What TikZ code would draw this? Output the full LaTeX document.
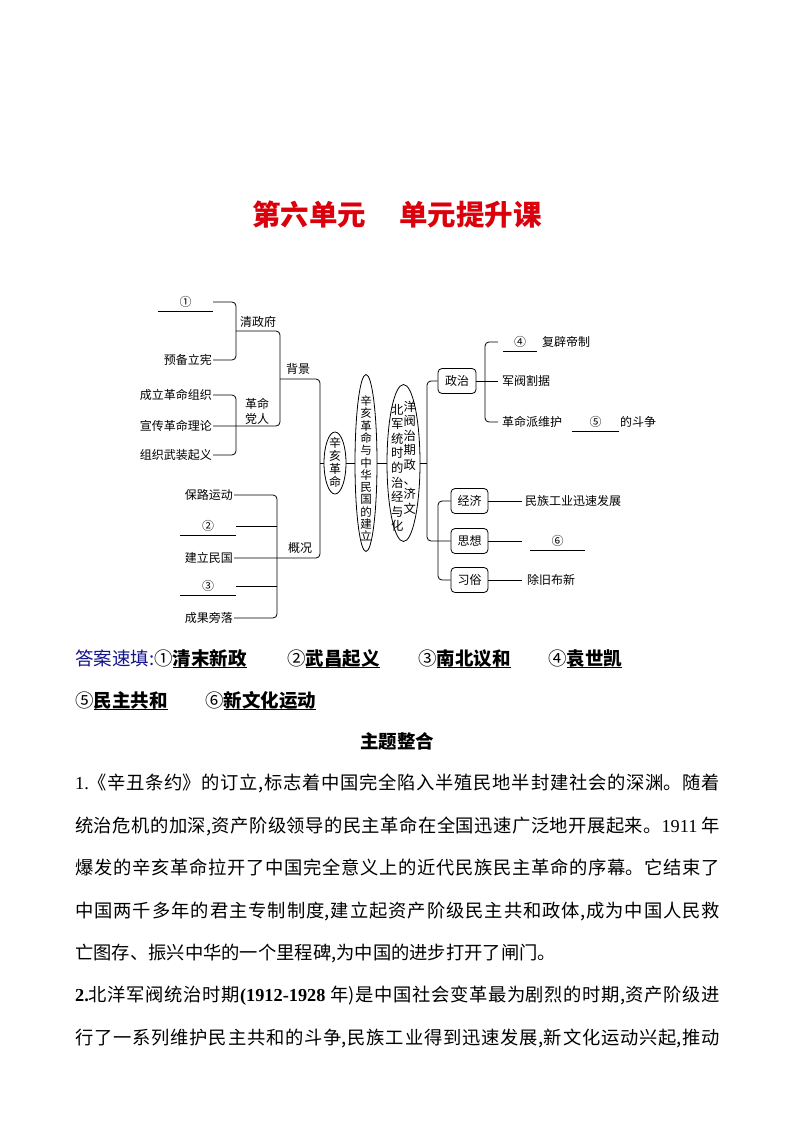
\documentclass[tikz,border=0pt]{standalone}
\usepackage{fontspec}
\setmainfont{Noto Sans CJK SC}
\newfontfamily\sr{Liberation Serif}
\usetikzlibrary{shapes.geometric}
\XeTeXlinebreaklocale "zh"
\XeTeXlinebreakskip=0pt plus 3pt
\definecolor{titlered}{RGB}{218,0,12}
\definecolor{ansblue}{RGB}{20,20,140}
\newsavebox\ulbox
\newcommand\ulb[1]{\sbox\ulbox{\bfseries #1}\rlap{\rule[-3.2pt]{\wd\ulbox}{1.3pt}}\usebox\ulbox}
\newcommand\rc[1]{\smash{\raisebox{3pt}{#1}}}
\tikzset{
  ln/.style={line width=0.8pt, draw=black},
  br/.style={ln, rounded corners=4pt},
  tx/.style={inner sep=1pt, font=\fontsize{12}{14}\selectfont},
  blankln/.style={inner sep=0pt, text height=13.8pt, text depth=5.2pt, minimum width=#1,
    font=\fontsize{12}{14}\selectfont,
    append after command={(\tikzlastnode.south west) edge[ln] (\tikzlastnode.south east)}},
  tagbox/.style={draw, line width=0.8pt, rounded corners=4pt, minimum width=37pt,
    minimum height=25pt, inner sep=0pt, font=\fontsize{12}{14}\selectfont},
  ell/.style={draw, line width=0.8pt, ellipse, inner sep=0pt},
  vt/.style={align=center, inner sep=0pt},
  para/.style={anchor=base west, inner sep=0pt, text width=645pt, align=justify,
    font=\fontsize{18.3}{22}\selectfont},
  plain/.style={anchor=base west, inner sep=0pt, font=\fontsize{18.3}{22}\selectfont},
  ans/.style={anchor=base west, inner sep=0pt, font=\fontsize{18.5}{22}\selectfont},
}
\begin{document}
\begin{tikzpicture}[x=1pt,y=-1pt]
\fill[white] (0,0) rectangle (794,1123);
\useasboundingbox (0,0) rectangle (794,1123);

% title
\node[font=\fontsize{28.5}{32}\selectfont\bfseries, text=titlered, inner sep=0pt] (title) at (397,215) {第六单元\hspace{1.15em}单元提升课};

% ---------- left part ----------
\node[blankln=55] (b1) at (185.5,302) {①};
\node[tx, anchor=east] (t2) at (213,360) {预备立宪};
\node[tx] (qzf) at (258,322) {清政府};
\node[tx] (bj) at (298,369) {背景};
\node[tx, align=center, font=\fontsize{12}{15}\selectfont] (gmdr) at (257,411) {革命\\党人};
\node[tx, anchor=east] (t3) at (213,395) {成立革命组织};
\node[tx, anchor=east] (t4) at (213,426) {宣传革命理论};
\node[tx, anchor=east] (t5) at (213,455) {组织武装起义};
\node[tx, anchor=east] (t6) at (234,495) {保路运动};
\node[blankln=56] (b2) at (208,526) {②};
\node[tx, anchor=east] (t8) at (234,558) {建立民国};
\node[blankln=56] (b3) at (208,586) {③};
\node[tx, anchor=east] (t10) at (234,618) {成果旁落};
\node[tx] (gk) at (300,548) {概况};

\coordinate (q) at (236,331);
\coordinate (k) at (280,379);
\coordinate (r) at (236,426);
\coordinate (m) at (320,463);
\coordinate (g) at (277,558);

\draw[br] (b1.east) -| (q) |- (t2.east);
\draw[br] (q) -| (k) |- (t4.east);
\draw[br] (t3.east) -| (r) |- (t5.east);
\draw[br] (k) -| (m) |- (t8.east);
\draw[br] (t6.east) -| (g) |- (t10.east);
\draw[ln] (b2.east) -- (b2.east -| g);
\draw[ln] (b3.east) -- (b3.east -| g);

% ---------- ellipses ----------
\node[ell, minimum width=22pt, minimum height=62pt] (e1) at (335,463) {};
\node[vt, font=\fontsize{12}{13}\selectfont] (e1t) at (335,462) {辛\\亥\\革\\命};
\node[ell, minimum width=22pt, minimum height=177pt] (e2) at (366,463) {};
\node[vt, font=\fontsize{11.5}{12.3}\selectfont] (e2t) at (366,468.5) {辛\\亥\\革\\命\\与\\中\\华\\民\\国\\的\\建\\立};
\node[ell, minimum width=33pt, minimum height=157pt] (e3) at (403.5,463) {};
\node[vt, font=\fontsize{12.3}{14.6}\selectfont] (e3t) at (403.5,468) {北\rc{洋}\\军\rc{阀}\\统\rc{治}\\时\rc{期}\\的\rc{政}\\治\rc{、}\\经\rc{济}\\与\rc{文}\\化\phantom{文}};

\draw[ln] (m) -- (e1.west);
\draw[ln] (e1.east) -- (e2.west);
\draw[ln] (e2.east) -- (e3.west);

% ---------- right part ----------
\coordinate (n) at (427,463);
\coordinate (p) at (438,541);
\coordinate (z) at (485,381);
\node[tagbox, minimum width=38pt] (zz) at (457,381) {政治};
\node[tagbox] (jj) at (469.5,501) {经济};
\node[tagbox] (sx) at (469.5,541) {思想};
\node[tagbox] (xs) at (469.5,580) {习俗};

\draw[ln] (e3.east) -- (n);
\draw[br] (zz.west) -| (n) |- (sx.west);
\draw[br] (jj.west) -| (p) |- (xs.west);

\node[blankln=34] (b4) at (520,342) {④};
\node[tx, anchor=west] (fb) at (541,342) {复辟帝制};
\node[tx, anchor=west] (jf) at (501,381) {军阀割据};
\node[tx, anchor=west] (gmp) at (501,422) {革命派维护};
\node[blankln=47] (b5) at (595.5,422) {⑤};
\node[tx, anchor=west] (dzz) at (619,422) {的斗争};

\draw[br] ([xshift=-5pt]b4.west) -| (z) |- ([xshift=-3pt]gmp.west);
\draw[ln] (zz.east) -- ([xshift=-3pt]jf.west);

\node[tx, anchor=west] (mz) at (524,501) {民族工业迅速发展};
\node[blankln=55] (b6) at (557.5,541) {⑥};
\node[tx, anchor=west] (cj) at (526,580) {除旧布新};
\draw[ln] (jj.east) -- ([xshift=-2pt]mz.west);
\draw[ln] (sx.east) -- ([xshift=-8pt]b6.west);
\draw[ln] (xs.east) -- ([xshift=-4pt]cj.west);

% ---------- answers ----------
\node[ans] (a1) at (75,665) {\textcolor{ansblue}{答案速填:}①\ulb{清末新政}};
\node[ans] (a2) at (287,665) {②\ulb{武昌起义}};
\node[ans] (a3) at (418,665) {③\ulb{南北议和}};
\node[ans] (a4) at (548,665) {④\ulb{袁世凯}};
\node[ans] (a5) at (75,707) {⑤\ulb{民主共和}};
\node[ans] (a6) at (205,707) {⑥\ulb{新文化运动}};

\node[font=\fontsize{18.5}{22}\selectfont\bfseries, anchor=base, inner sep=0pt] (zt) at (397,748) {主题整合};

% ---------- paragraphs ----------
\node[para] (l1) at (75,789) {\noindent{\parfillskip=0pt\relax {\sr 1.}《辛丑条约》的订立,标志着中国完全陷入半殖民地半封建社会的深渊。随着\par}};
\node[para] (l2) at (75,832) {\noindent{\parfillskip=0pt\relax 统治危机的加深,资产阶级领导的民主革命在全国迅速广泛地开展起来。{\sr 1911} 年\par}};
\node[para] (l3) at (75,874) {\noindent{\parfillskip=0pt\relax 爆发的辛亥革命拉开了中国完全意义上的近代民族民主革命的序幕。它结束了\par}};
\node[para] (l4) at (75,917) {\noindent{\parfillskip=0pt\relax 中国两千多年的君主专制制度,建立起资产阶级民主共和政体,成为中国人民救\par}};
\node[plain] (l5) at (75,959) {亡图存、振兴中华的一个里程碑,为中国的进步打开了闸门。};
\node[para] (l6) at (75,1001) {\noindent{\parfillskip=0pt\relax {\sr\bfseries 2.}北洋军阀统治时期{\sr\bfseries (1912-1928} 年)是中国社会变革最为剧烈的时期,资产阶级进\par}};
\node[para] (l7) at (75,1044) {\noindent{\parfillskip=0pt\relax 行了一系列维护民主共和的斗争,民族工业得到迅速发展,新文化运动兴起,推动\par}};
\end{tikzpicture}
\end{document}
